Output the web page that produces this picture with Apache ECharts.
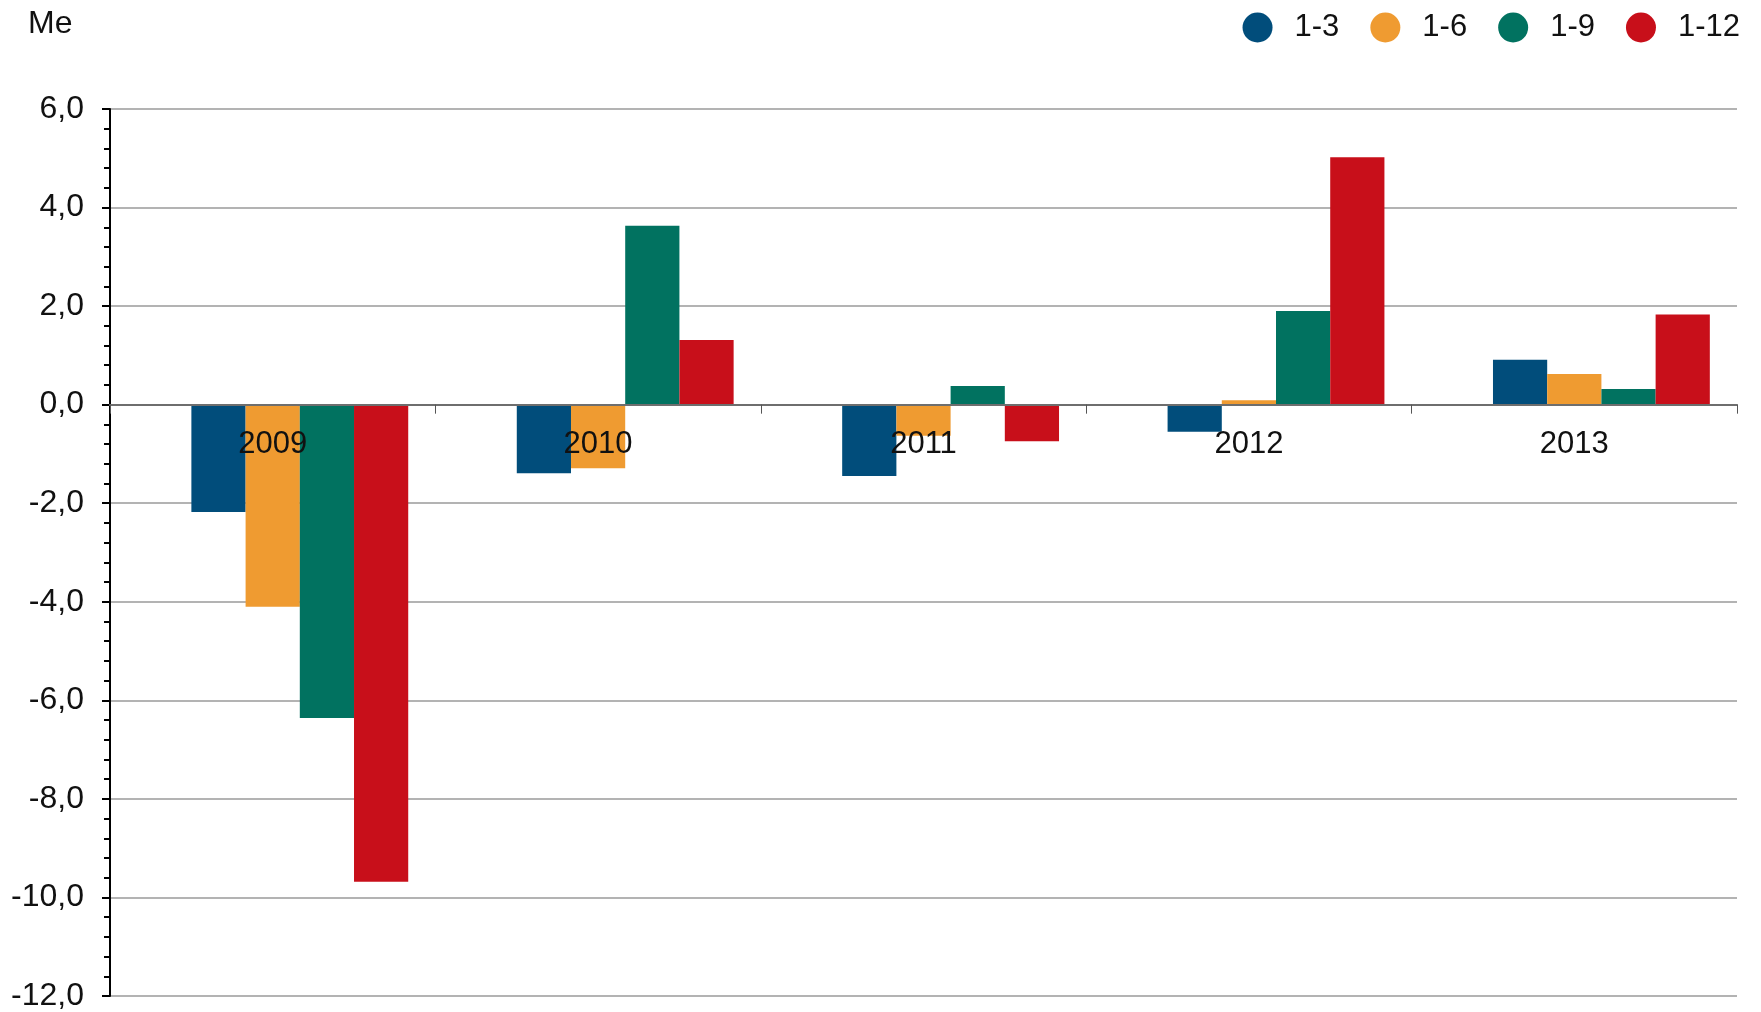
<!DOCTYPE html>
<html>
<head>
<meta charset="utf-8">
<script src="https://cdn.jsdelivr.net/npm/echarts@6/dist/echarts.min.js"></script>
<style>
  html, body { margin: 0; padding: 0; background: #fff; }
  #chart { width: 1761px; height: 1012px; }
</style>
</head>
<body>
<div id="chart"></div>
<script>
// vuodet ja jaksot
var years = ['2009', '2010', '2011', '2012', '2013'];
var periods = ['1-3', '1-6', '1-9', '1-12'];
var colors = ['#014d7b', '#ef9b31', '#017260', '#c80f1a'];

// arvot, Me
var q1 = [-2.18, -1.39, -1.45, -0.55, 0.91];
var q2 = [-4.10, -1.29, -0.63, 0.09, 0.62];
var q3 = [-6.36, 3.63, 0.38, 1.90, 0.32];
var q4 = [-9.68, 1.31, -0.74, 5.02, 1.83];
var values = [q1, q2, q3, q4];

var yMin = -12, yMax = 6;

var font = 'Liberation Sans, Arial, sans-serif';
var W = 1761, H = 1012;
var gridTop = 109, gridBottom = 16;

// x-akseli nollatasolle (siirto alareunasta)
var plotH = H - gridTop - gridBottom;
var zeroOffset = -plotH * (0 - yMin) / (yMax - yMin);

var chart = echarts.init(document.getElementById('chart'));

// alkuperäisessä on tyhjä paikka ryhmän vasemmalla puolella
var series = [{
    name: '',
    type: 'bar',
    data: [],
    barGap: '0%',
    barCategoryGap: '16.7%'
}];
periods.forEach(function (name, i) {
    series.push({
        name: name,
        type: 'bar',
        data: values[i],
        itemStyle: { color: colors[i] },
        barGap: '0%',
        barCategoryGap: '16.7%'
    });
});

chart.setOption({
    animation: false,
    backgroundColor: '#fff',
    textStyle: { fontFamily: font },
    title: {
        text: 'Me',
        left: 23,
        top: 3,
        textStyle: { fontFamily: font, fontSize: 32, fontWeight: 'normal', color: '#111' }
    },
    legend: {
        right: 16,
        top: 7,
        icon: 'circle',
        itemWidth: 30,
        itemHeight: 30,
        itemGap: 31,
        data: periods,
        textStyle: { fontFamily: font, fontSize: 31, color: '#111', padding: [0, 0, 0, 17] }
    },
    grid: {
        left: 110,
        right: 24,
        top: gridTop,
        bottom: gridBottom,
        containLabel: false
    },
    xAxis: {
        type: 'category',
        data: years,
        z: 10,
        offset: zeroOffset,
        axisLine: { onZero: false, lineStyle: { color: '#6e6e6e', width: 2 } },
        axisTick: { show: true, length: 9, lineStyle: { color: '#555', width: 1 } },
        axisLabel: { fontFamily: font, fontSize: 31, color: '#111', margin: 24 },
        splitLine: { show: false }
    },
    yAxis: {
        type: 'value',
        min: yMin,
        max: yMax,
        interval: 2,
        axisLine: { show: true, lineStyle: { color: '#000', width: 2 } },
        axisTick: { show: true, inside: false, length: 8, lineStyle: { color: '#000', width: 2 } },
        minorTick: { show: true, splitNumber: 5, length: 6, lineStyle: { color: '#000', width: 2 } },
        axisLabel: {
            fontFamily: font,
            fontSize: 32,
            color: '#111',
            margin: 26,
            formatter: function (v) { return v.toFixed(1).replace('.', ','); }
        },
        splitLine: { show: true, lineStyle: { color: '#b3b3b3', width: 2 } }
    },
    series: series
});
</script>
</body>
</html>
